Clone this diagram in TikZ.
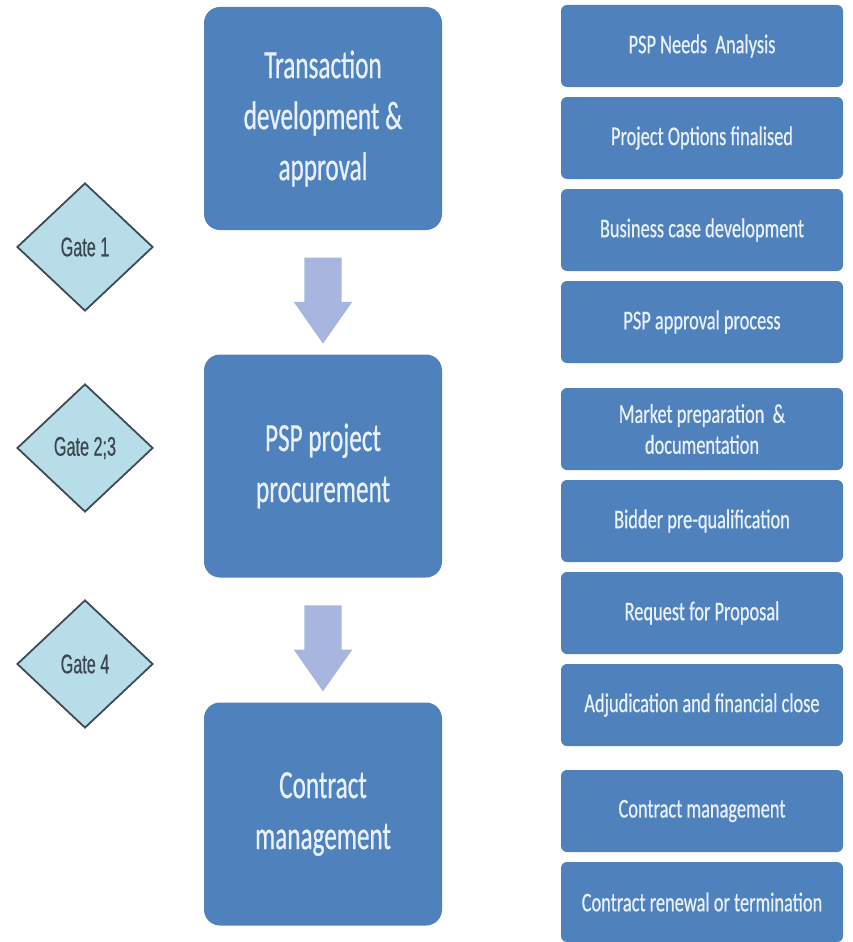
\documentclass[tikz,border=0pt]{standalone}
\usepackage{fontspec}
\setmainfont{Carlito}
\newfontfamily\bigf[FakeStretch=0.63,FakeBold=0.6]{Carlito}
\newfontfamily\smallf[FakeStretch=0.68,FakeBold=0.6]{Carlito}
\newfontfamily\gatef[FakeStretch=0.6,FakeBold=0.4]{Liberation Sans}
\usetikzlibrary{shapes.geometric,shapes.arrows,calc}
\definecolor{boxblue}{HTML}{4F81BD}
\definecolor{boxtext}{HTML}{E8F0FA}
\definecolor{gatefill}{HTML}{B7DDE8}
\definecolor{gateline}{HTML}{404B55}
\definecolor{gatetext}{HTML}{3B4650}
\definecolor{arrowc}{HTML}{A6B6DE}
\tikzset{
  bigbox/.style={fill=boxblue, rounded corners=16pt, minimum width=238pt, minimum height=223pt,
    text=boxtext, align=center, font=\bigf\fontsize{40}{51}\selectfont, inner sep=0pt},
  smallbox/.style={fill=boxblue, rounded corners=6pt, minimum width=282pt, minimum height=82pt,
    text=boxtext, align=center, font=\smallf\fontsize{27}{31}\selectfont, inner sep=0pt},
  gatebox/.style={diamond, draw=gateline, line width=1.8pt, fill=gatefill, aspect=1.06,
    minimum width=136pt, minimum height=128pt, inner sep=0pt, text=gatetext,
    font=\gatef\fontsize{27}{30}\selectfont},
  downarrow/.style={single arrow, fill=arrowc, rotate=-90, minimum height=86pt,
    inner xsep=0pt, inner ysep=18.5pt, single arrow head extend=10.5pt, single arrow tip angle=70},
}
\begin{document}
\begin{tikzpicture}[x=1pt,y=-1pt]
\useasboundingbox (0,0) rectangle (852,942);
\fill[white] (0,0) rectangle (852,942);
% big boxes
\node[bigbox] (b1) at (323,118.5) {Transaction\\development \&\\approval};
\node[bigbox] (b2) at (323,466) {PSP project\\procurement};
\node[bigbox] (b3) at (323,814) {Contract\\management};
% arrows
\node[downarrow] (a1) at ($(b1.south)!0.46!(b2.north)$) {};
\node[downarrow] (a2) at ($(b2.south)!0.46!(b3.north)$) {};
% gates
\node[gatebox] (g1) at (85,247) {Gate 1};
\node[gatebox] (g2) at (85,448) {Gate 2;3};
\node[gatebox] (g3) at (85,664) {Gate 4};
% right boxes
\node[smallbox] (r1) at (702,46) {PSP Needs\ \ Analysis};
\node[smallbox] (r2) at (702,138) {Project Options finalised};
\node[smallbox] (r3) at (702,230) {Business case development};
\node[smallbox] (r4) at (702,322) {PSP approval process};
\node[smallbox] (r5) at (702,429) {Market preparation \ \&\\documentation};
\node[smallbox] (r6) at (702,521) {Bidder pre-qualification};
\node[smallbox] (r7) at (702,613) {Request for Proposal};
\node[smallbox] (r8) at (702,705) {Adjudication and financial close};
\node[smallbox] (r9) at (702,811) {Contract management};
\node[smallbox, minimum height=80pt] (r10) at (702,902) {Contract renewal or termination};
\end{tikzpicture}
\end{document}
